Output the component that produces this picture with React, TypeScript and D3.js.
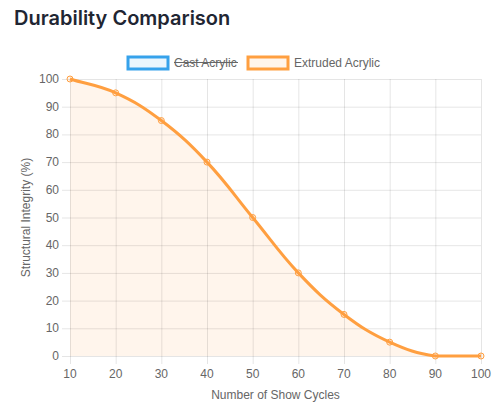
import React from "react";
import * as d3 from "d3";

const cycles = [10, 20, 30, 40, 50, 60, 70, 80, 90, 100];
const extruded = [100, 95, 85, 70, 50, 30, 15, 5, 0, 0];
const yTicks = [0, 10, 20, 30, 40, 50, 60, 70, 80, 90, 100];
const legendItems = [
  { label: "Cast Acrylic", color: "#36A2EB", fill: "rgba(54,162,235,0.1)", hidden: true },
  { label: "Extruded Acrylic", color: "#FF9F40", fill: "rgba(255,159,64,0.1)", hidden: false },
];

const W = 498;
const H = 411;
const left = 70;
const right = 481;
const top = 79;
const bottom = 356;
const FONT = "'Liberation Sans', Arial, Helvetica, sans-serif";
const GRID = "rgba(0,0,0,0.1)";

function splinePath(pts: [number, number][], tension: number, close?: boolean) {
  const p = d3.path();
  const n = pts.length;
  const cps: { p: [number, number]; n: [number, number] }[] = pts.map((cur, i) => {
    const prev = pts[Math.max(0, i - 1)];
    const next = pts[Math.min(n - 1, i + 1)];
    const d01 = Math.hypot(cur[0] - prev[0], cur[1] - prev[1]);
    const d12 = Math.hypot(next[0] - cur[0], next[1] - cur[1]);
    let s01 = d01 / (d01 + d12);
    let s12 = d12 / (d01 + d12);
    s01 = isNaN(s01) ? 0 : s01;
    s12 = isNaN(s12) ? 0 : s12;
    const fa = tension * s01;
    const fb = tension * s12;
    const cap = (v: number, lo: number, hi: number) => Math.max(lo, Math.min(hi, v));
    return {
      p: [cap(cur[0] - fa * (next[0] - prev[0]), left, right), cap(cur[1] - fa * (next[1] - prev[1]), top, bottom)],
      n: [cap(cur[0] + fb * (next[0] - prev[0]), left, right), cap(cur[1] + fb * (next[1] - prev[1]), top, bottom)],
    };
  });
  p.moveTo(pts[0][0], pts[0][1]);
  for (let i = 1; i < n; i++) {
    p.bezierCurveTo(cps[i - 1].n[0], cps[i - 1].n[1], cps[i].p[0], cps[i].p[1], pts[i][0], pts[i][1]);
  }
  if (close) {
    p.lineTo(pts[n - 1][0], bottom);
    p.lineTo(pts[0][0], bottom);
    p.closePath();
  }
  return p.toString();
}

export default function App() {
  const x = d3.scalePoint<number>().domain(cycles).range([left, right]);
  const y = d3.scaleLinear().domain([0, 100]).range([bottom, top]);
  const pts: [number, number][] = cycles.map((c, i) => [x(c) as number, y(extruded[i])]);
  const line = splinePath(pts, 0.4);
  const area = splinePath(pts, 0.4, true);

  let lx = 128;
  const legendLayout = legendItems.map((it) => {
    const w = it.label === "Cast Acrylic" ? 64 : 86;
    const pos = { ...it, x: lx, w };
    lx += 40 + 6 + w + 10;
    return pos;
  });

  return (
    <svg width={W} height={H} style={{ position: "absolute", left: 0, top: 0 }}>
      <rect width={W} height={H} fill="#fff" />
      <text x={14} y={25} fontFamily="Inter, 'Noto Sans', sans-serif" fontWeight={600} fontSize={20} fill="#1f2633">
        Durability Comparison
      </text>

      {legendLayout.map((it) => (
        <g key={it.label}>
          <rect x={it.x} y={57} width={40} height={12} fill={it.fill} stroke={it.color} strokeWidth={3} />
          <text x={it.x + 46} y={67} fontFamily={FONT} fontSize={12} fill="#666">
            {it.label}
          </text>
          {it.hidden && <line x1={it.x + 46} x2={it.x + 46 + it.w} y1={62.5} y2={62.5} stroke="#666" strokeWidth={1.2} />}
        </g>
      ))}

      <path d={area} fill="rgba(255,159,64,0.1)" />

      {yTicks.map((t) => (
        <g key={t}>
          <line x1={left - 8} x2={right} y1={y(t) + 0.5} y2={y(t) + 0.5} stroke={GRID} />
          <text x={59} y={y(t) + 4} textAnchor="end" fontFamily={FONT} fontSize={12} fill="#666">
            {t}
          </text>
        </g>
      ))}
      {cycles.map((c) => (
        <g key={c}>
          <line x1={(x(c) as number) + 0.5} x2={(x(c) as number) + 0.5} y1={top} y2={bottom + 8} stroke={GRID} />
          <text x={x(c) as number} y={378} textAnchor="middle" fontFamily={FONT} fontSize={12} fill="#666">
            {c}
          </text>
        </g>
      ))}

      <path d={line} fill="none" stroke="#FF9F40" strokeWidth={3} />
      {pts.map((p, i) => (
        <circle key={i} cx={p[0]} cy={p[1]} r={3} fill="rgba(255,159,64,0.1)" stroke="#FF9F40" strokeWidth={1} />
      ))}

      <text x={(left + right) / 2} y={399} textAnchor="middle" fontFamily={FONT} fontSize={12} fill="#666">
        Number of Show Cycles
      </text>
      <text
        transform={`translate(30, ${(top + bottom) / 2}) rotate(-90)`}
        textAnchor="middle"
        fontFamily={FONT}
        fontSize={12}
        fill="#666"
      >
        Structural Integrity (%)
      </text>
    </svg>
  );
}
